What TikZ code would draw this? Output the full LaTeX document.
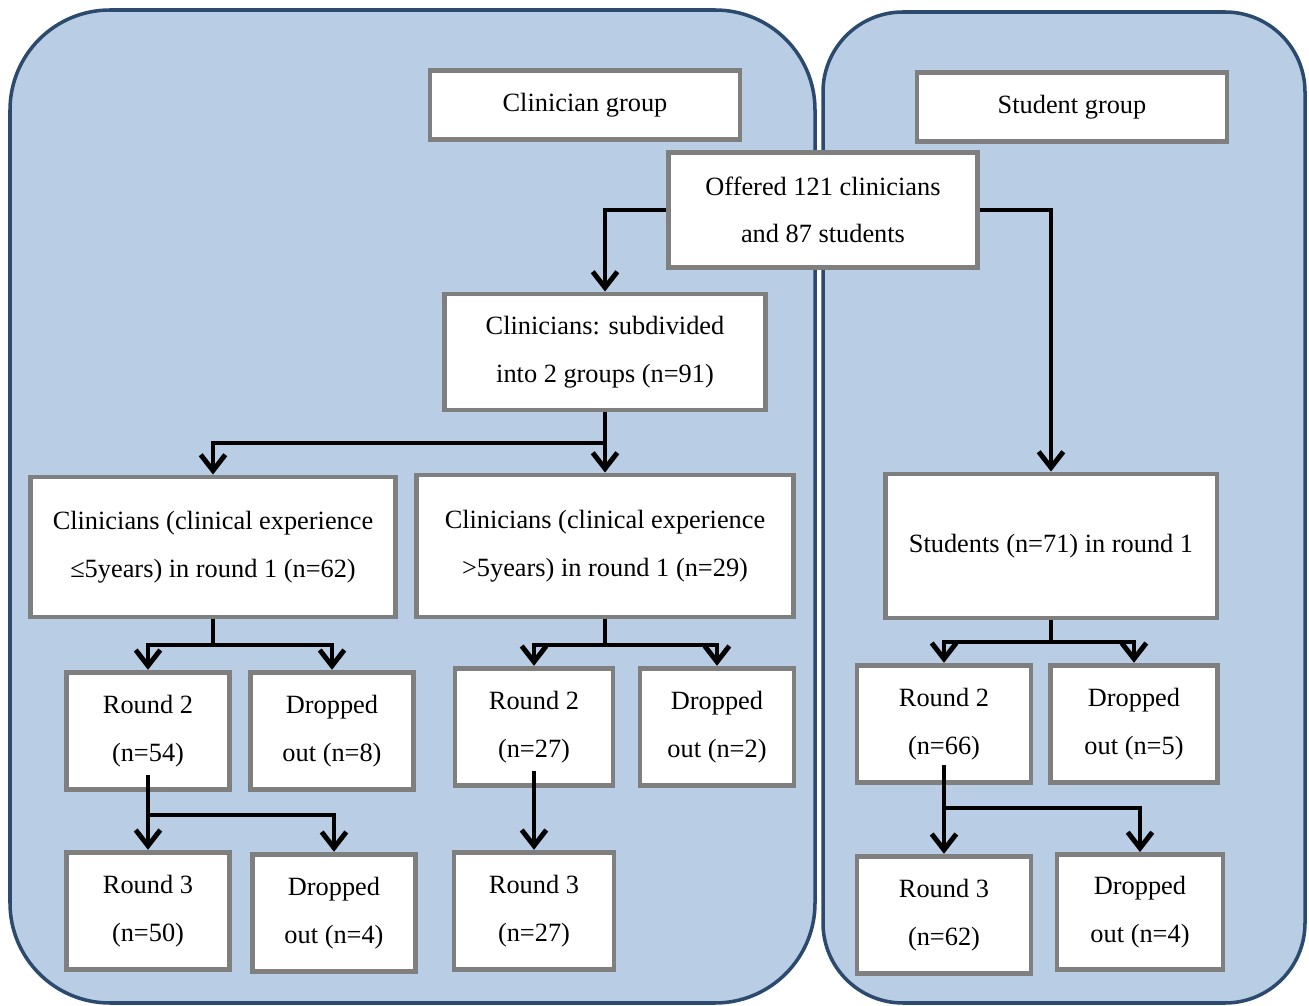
\documentclass[tikz,border=0pt]{standalone}
\usepackage{fontspec}
\setmainfont{Liberation Serif}
\usetikzlibrary{arrows.meta}
\definecolor{panelfill}{HTML}{B9CDE5}
\definecolor{paneldraw}{HTML}{2B4A6E}
\definecolor{boxdraw}{HTML}{7F7F7F}
\begin{document}
\begin{tikzpicture}[x=0.02cm,y=-0.02cm,>={Straight Barb[length=9pt,width=14pt]}]
    \tikzstyle{every node}=[font=\fontsize{15}{27}\selectfont]
    \tikzstyle{box}=[draw=boxdraw,line width=2.8pt,fill=white,align=center,inner sep=2pt]
    \tikzstyle{rbox}=[box,minimum width=3.25cm,minimum height=2.35cm]
    \tikzstyle{panel}=[draw=paneldraw,line width=2pt,fill=panelfill]
    \tikzstyle{link}=[->,line width=2.8pt]

    \useasboundingbox (0,0) rectangle (1309,1006);

    \draw[panel,rounded corners=2cm] (10,10) rectangle (815,1003);
    \draw[panel,rounded corners=1.6cm] (823,12) rectangle (1305,1003);

    \node[box,minimum width=6.2cm,minimum height=1.38cm] (cg) at (585,105) {Clinician group};
    \node[box,minimum width=6.2cm,minimum height=1.38cm] (sg) at (1072,107) {Student group};

    \node[box,minimum width=6.18cm,minimum height=2.3cm] (off) at (823,210)
    {Offered 121 clinicians \\ and 87 students};

    \node[box,minimum width=6.42cm,minimum height=2.32cm] (csub) at (605,352)
    {Clinicians: subdivided \\ into 2 groups (n=91)};

    \node[box,minimum width=7.3cm,minimum height=2.8cm] (c1) at (213,547)
    {Clinicians (clinical experience \\ ≤5years) in round 1 (n=62)};
    \node[box,minimum width=7.54cm,minimum height=2.84cm] (c2) at (605,546)
    {Clinicians (clinical experience \\ >5years) in round 1 (n=29)};
    \node[box,minimum width=6.64cm,minimum height=2.88cm] (s1) at (1051,546)
    {Students (n=71) in round 1};

    \node[rbox] (r2a) at (148,731) {Round 2 \\ (n=54)};
    \node[rbox] (d2a) at (332,731) {Dropped \\ out (n=8)};
    \node[rbox] (r3a) at (148,911) {Round 3 \\ (n=50)};
    \node[rbox] (d3a) at (334,913) {Dropped \\ out (n=4)};

    \node[rbox,minimum width=3.16cm] (r2b) at (534,727) {Round 2 \\ (n=27)};
    \node[rbox,minimum width=3.08cm] (d2b) at (717,727) {Dropped \\ out (n=2)};
    \node[rbox,minimum width=3.2cm] (r3b) at (534,911) {Round 3 \\ (n=27)};

    \node[rbox,minimum width=3.48cm] (r2s) at (944,724) {Round 2 \\ (n=66)};
    \node[rbox,minimum width=3.34cm] (d2s) at (1134,724) {Dropped \\ out (n=5)};
    \node[rbox,minimum width=3.48cm] (r3s) at (944,915) {Round 3 \\ (n=62)};
    \node[rbox,minimum width=3.32cm,minimum height=2.3cm] (d3s) at (1140,912) {Dropped \\ out (n=4)};

    % junctions
    \coordinate (j0) at (605,443);
    \coordinate (ja) at (213,645);
    \coordinate (jb) at (605,645);
    \coordinate (js) at (1051,642);
    \coordinate (ka) at (148,815);
    \coordinate (ks) at (944,808);

    \draw[link] (off.west) -| (csub.north);
    \draw[link] (off.east) -| (s1.north);

    \draw[link] (csub.south) -- (c2.north);
    \draw[link] (j0) -| (c1.north);

    \draw[link] (c1.south) -- (ja) -| (r2a.north);
    \draw[link] (ja) -| (d2a.north);
    \draw[link] (c2.south) -- (jb) -| (r2b.north);
    \draw[link] (jb) -| (d2b.north);
    \draw[link] (s1.south) -- (js) -| (r2s.north);
    \draw[link] (js) -| (d2s.north);

    \draw[link] ([yshift=0.34cm]r2a.south) -- (r3a.north);
    \draw[link] (ka) -| (d3a.north);
    \draw[link] ([yshift=0.34cm]r2b.south) -- (r3b.north);
    \draw[link] ([yshift=0.4cm]r2s.south) -- (r3s.north);
    \draw[link] (ks) -| (d3s.north);
\end{tikzpicture}
\end{document}
